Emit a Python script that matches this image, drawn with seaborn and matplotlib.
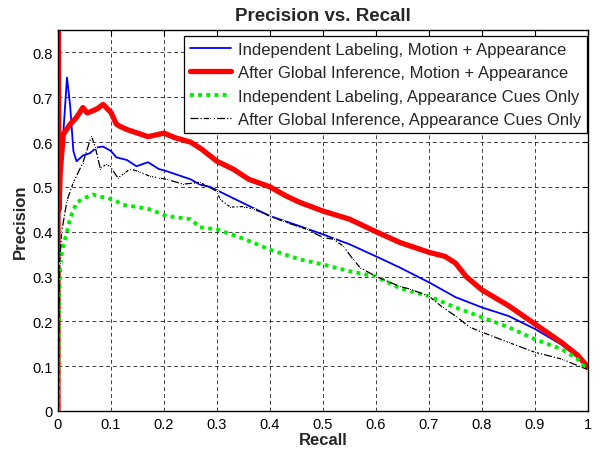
import matplotlib
matplotlib.use("Agg")
import matplotlib.pyplot as plt
import seaborn as sns
import pandas as pd
from matplotlib.ticker import FuncFormatter

labels = [
    "Independent Labeling, Motion + Appearance",
    "After Global Inference, Motion + Appearance",
    "Independent Labeling, Appearance Cues Only",
    "After Global Inference, Appearance Cues Only",
]

blue_recall = [0, 0.005, 0.01, 0.017, 0.023, 0.029, 0.035, 0.047, 0.06, 0.073, 0.085, 0.1, 0.11,
               0.13, 0.148, 0.17, 0.19, 0.205, 0.23, 0.25, 0.268, 0.287, 0.33, 0.37, 0.4, 0.457,
               0.5, 0.55, 0.6, 0.645, 0.7, 0.75, 0.8, 0.85, 0.9, 0.95, 0.97, 1.0]
blue_prec = [0.45, 0.55, 0.62, 0.744, 0.68, 0.58, 0.557, 0.57, 0.575, 0.588, 0.59, 0.58, 0.566,
             0.56, 0.546, 0.555, 0.54, 0.535, 0.525, 0.517, 0.505, 0.50, 0.475, 0.452, 0.435, 0.412,
             0.394, 0.372, 0.345, 0.32, 0.287, 0.254, 0.231, 0.212, 0.183, 0.148, 0.13, 0.098]

red_recall = [0, 0, 0.002, 0.004, 0.01, 0.023, 0.035, 0.047, 0.055, 0.066, 0.075, 0.085, 0.095,
              0.1, 0.11, 0.117, 0.13, 0.15, 0.17, 0.2, 0.22, 0.25, 0.27, 0.3, 0.33, 0.36, 0.4,
              0.43, 0.457, 0.48, 0.5, 0.55, 0.6, 0.645, 0.7, 0.73, 0.75, 0.77, 0.8, 0.85, 0.9,
              0.95, 0.98, 1.0]
red_prec = [0, 1.0, 0.45, 0.53, 0.617, 0.64, 0.655, 0.677, 0.665, 0.67, 0.675, 0.684, 0.672,
            0.666, 0.64, 0.635, 0.628, 0.62, 0.612, 0.62, 0.61, 0.6, 0.585, 0.557, 0.54, 0.517,
            0.50, 0.48, 0.465, 0.455, 0.446, 0.428, 0.40, 0.376, 0.354, 0.345, 0.33, 0.30, 0.27,
            0.235, 0.194, 0.153, 0.125, 0.098]

green_recall = [0, 0.002, 0.004, 0.008, 0.017, 0.023, 0.035, 0.05, 0.066, 0.08, 0.092, 0.11,
                0.123, 0.15, 0.173, 0.205, 0.25, 0.268, 0.3, 0.337, 0.37, 0.4, 0.457, 0.5, 0.55,
                0.6, 0.645, 0.7, 0.75, 0.8, 0.85, 0.9, 0.95, 0.98, 1.0]
green_prec = [0, 0.25, 0.32, 0.36, 0.40, 0.43, 0.465, 0.475, 0.483, 0.478, 0.476, 0.468, 0.46,
              0.455, 0.45, 0.435, 0.428, 0.41, 0.405, 0.39, 0.375, 0.36, 0.338, 0.327, 0.312,
              0.30, 0.274, 0.256, 0.231, 0.209, 0.187, 0.16, 0.138, 0.116, 0.09]

black_recall = [0, 0.003, 0.007, 0.017, 0.029, 0.047, 0.063, 0.07, 0.08, 0.09, 0.098, 0.113,
                0.125, 0.136, 0.15, 0.173, 0.19, 0.205, 0.236, 0.268, 0.3, 0.306, 0.325, 0.35,
                0.37, 0.4, 0.425, 0.47, 0.5, 0.52, 0.538, 0.557, 0.57, 0.6, 0.645, 0.664, 0.7,
                0.726, 0.75, 0.777, 0.8, 0.85, 0.9, 0.95, 1.0]
black_prec = [0, 0.33, 0.40, 0.47, 0.51, 0.554, 0.613, 0.59, 0.54, 0.55, 0.546, 0.52, 0.53,
              0.54, 0.535, 0.524, 0.52, 0.517, 0.506, 0.51, 0.49, 0.472, 0.455, 0.456, 0.45,
              0.435, 0.423, 0.405, 0.387, 0.383, 0.368, 0.338, 0.32, 0.30, 0.278, 0.272, 0.256,
              0.231, 0.212, 0.187, 0.176, 0.153, 0.131, 0.116, 0.092]

x_ticks = [0, 0.1, 0.2, 0.3, 0.4, 0.5, 0.6, 0.7, 0.8, 0.9, 1.0]
y_ticks = [0, 0.1, 0.2, 0.3, 0.4, 0.5, 0.6, 0.7, 0.8]

sns.set_style("white")
plt.rcParams["font.family"] = ["Liberation Sans", "DejaVu Sans"]

fig = plt.figure(figsize=(6.12, 4.52), dpi=100)
ax = fig.add_axes([58 / 612, 40 / 452, 530 / 612, 381 / 452])

series = [
    (blue_recall, blue_prec, labels[0], dict(color="#0000ff", linewidth=1.3, linestyle="-")),
    (red_recall, red_prec, labels[1], dict(color="#ff0000", linewidth=3.8, linestyle="-")),
    (green_recall, green_prec, labels[2], dict(color="#00ee00", linewidth=2.8, linestyle=(0, (1, 1.1)))),
    (black_recall, black_prec, labels[3], dict(color="black", linewidth=0.9, linestyle="-.",
                                               marker=".", markersize=3)),
]
for r, p, lab, kw in series:
    df = pd.DataFrame({"Recall": r, "Precision": p})
    sns.lineplot(data=df, x="Recall", y="Precision", sort=False, estimator=None, ax=ax,
                 label=lab, **kw)

ax.set_xlim(0, 1)
ax.set_ylim(0, 0.85)
ax.set_xticks(x_ticks)
ax.set_yticks(y_ticks)
fmt = FuncFormatter(lambda v, _: ("%g" % round(v, 2)))
ax.xaxis.set_major_formatter(fmt)
ax.yaxis.set_major_formatter(fmt)
ax.tick_params(direction="in", top=True, right=True, length=4, width=0.8, labelsize=10.5,
               colors="black", pad=4)
ax.grid(True, linestyle=(0, (4, 3)), color="black", linewidth=0.7, alpha=0.75)
for s in ax.spines.values():
    s.set_color("black")
    s.set_linewidth(1.0)
    s.set_visible(True)

ax.set_title("Precision vs. Recall", fontsize=13.5, fontweight="bold", pad=7)
ax.set_xlabel("Recall", fontsize=12, fontweight="bold", labelpad=1)
ax.set_ylabel("Precision", fontsize=12, fontweight="bold", labelpad=3)

leg = ax.legend(loc="upper right", bbox_to_anchor=(0.998, 0.984), fontsize=12,
                frameon=True, fancybox=False, shadow=False, handlelength=2.5,
                handletextpad=0.4, borderpad=0.35, labelspacing=0.5, borderaxespad=0)
leg.get_frame().set_edgecolor("black")
leg.get_frame().set_linewidth(0.9)
leg.get_frame().set_alpha(1)

fig.savefig("out.png", dpi=100)
